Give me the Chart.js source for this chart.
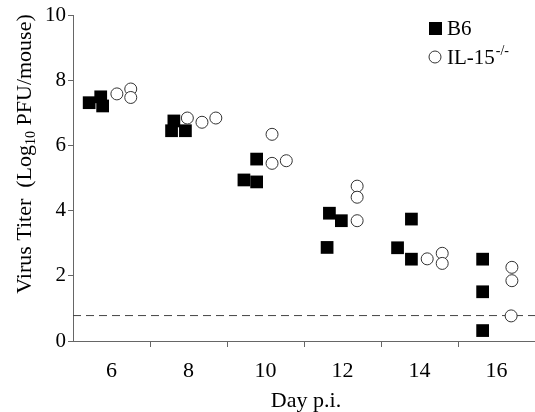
<!DOCTYPE html>
<html>
<head>
  <title>Virus titer by day p.i.</title>
  <script src="https://cdn.jsdelivr.net/npm/chart.js"></script>
  <style>
    body { margin: 0; background: #fff; }
    #wrap { width: 535px; height: 412px; }
  </style>
</head>
<body>
  <div id="wrap"><canvas id="titerChart" width="535" height="412"></canvas></div>

  <script>
    // values (x = day with the horizontal spread used in the plot)
    const dayLabels = [6, 8, 10, 12, 14, 16];
    const b6Day = [5.42, 5.72, 5.77, 7.62, 7.56, 7.92, 9.44, 9.77, 9.77, 11.66, 11.97, 11.60, 13.79, 13.43, 13.79, 15.64, 15.64, 15.64];
    const b6Titer = [7.31, 7.49, 7.21, 6.75, 6.45, 6.45, 4.94, 4.88, 5.58, 3.92, 3.69, 2.87, 3.74, 2.86, 2.51, 2.51, 1.51, 0.32];
    const il15Day = [6.14, 6.50, 6.50, 7.97, 8.35, 8.71, 10.17, 10.17, 10.54, 12.38, 12.38, 12.38, 14.20, 14.59, 14.59, 16.40, 16.40, 16.38];
    const il15Titer = [7.58, 7.73, 7.47, 6.84, 6.71, 6.84, 6.34, 5.45, 5.53, 4.75, 4.41, 3.69, 2.52, 2.69, 2.38, 2.26, 1.85, 0.77];
    const detectionLimit = 0.78;
    const yTicks = [0, 2, 4, 6, 8, 10];

    const serif = '"Liberation Serif", "DejaVu Serif", serif';
    Chart.defaults.font.family = serif;
    const toPoints = (xs, ys) => xs.map((x, i) => ({ x: x, y: ys[i] }));

    // draws the axis titles and legend (sub/superscripts need plain canvas text)
    const textPlugin = {
      id: 'figureText',
      afterDraw(chart) {
        const ctx = chart.ctx;
        ctx.save();
        ctx.fillStyle = '#000';
        ctx.textBaseline = 'middle';

        // y title, rotated
        const big = '22px ' + serif, small = '14px ' + serif;
        const parts = [['Virus Titer  (Log', big, 0], ['10', small, 6], [' PFU/mouse)', big, 0]];
        let total = 0;
        parts.forEach(p => { ctx.font = p[1]; total += ctx.measureText(p[0]).width; });
        ctx.translate(25, 154);
        ctx.rotate(-Math.PI / 2);
        let pos = -total / 2;
        ctx.textAlign = 'left';
        parts.forEach(p => {
          ctx.font = p[1];
          ctx.fillText(p[0], pos, p[2]);
          pos += ctx.measureText(p[0]).width;
        });
        ctx.setTransform(1, 0, 0, 1, 0, 0);

        // x title
        ctx.font = big;
        ctx.textAlign = 'center';
        ctx.fillText('Day p.i.', 306, 401);

        // legend
        ctx.font = '21px ' + serif;
        ctx.textAlign = 'left';
        ctx.fillRect(429, 22, 13, 13);
        ctx.fillText('B6', 447, 29);
        ctx.beginPath();
        ctx.arc(435, 57, 6, 0, Math.PI * 2);
        ctx.strokeStyle = '#333';
        ctx.lineWidth = 1;
        ctx.stroke();
        ctx.fillText('IL-15', 447, 58);
        const w = ctx.measureText('IL-15').width;
        ctx.font = small;
        ctx.fillText('-/-', 447 + w + 1, 51);
        ctx.restore();
      }
    };

    new Chart(document.getElementById('titerChart'), {
      type: 'scatter',
      data: {
        datasets: [
          {
            label: 'IL-15-/-',
            data: toPoints(il15Day, il15Titer),
            pointStyle: 'circle',
            pointRadius: 6,
            pointBackgroundColor: '#fff',
            pointBorderColor: '#333',
            pointBorderWidth: 1
          },
          {
            label: 'B6',
            data: toPoints(b6Day, b6Titer),
            pointStyle: 'rect',
            pointRadius: 9,
            pointBackgroundColor: '#000',
            pointBorderColor: '#000',
            pointBorderWidth: 0
          },
          {
            type: 'line',
            label: 'limit',
            data: [{ x: 5, y: detectionLimit }, { x: 17, y: detectionLimit }],
            borderColor: '#444',
            borderWidth: 1,
            borderDash: [8, 5],
            pointRadius: 0,
            fill: false
          }
        ]
      },
      options: {
        responsive: false,
        animation: false,
        events: [],
        layout: { autoPadding: false, padding: { top: 15, right: 0, left: 0, bottom: 0 } },
        plugins: { legend: { display: false }, tooltip: { enabled: false } },
        scales: {
          x: {
            type: 'linear',
            min: 5,
            max: 17,
            afterFit: s => { s.height = 71; s.paddingLeft = 0; s.paddingRight = 0; },
            afterBuildTicks: s => { s.ticks = Array.from({ length: 13 }, (_, i) => ({ value: 5 + i })); },
            border: { color: '#666', width: 1 },
            grid: {
              drawOnChartArea: false,
              tickLength: 6,
              color: c => (c.tick && c.tick.value % 2 === 1 && c.tick.value > 5) ? '#666' : 'rgba(0,0,0,0)'
            },
            ticks: {
              autoSkip: false,
              maxRotation: 0,
              padding: 11,
              color: '#000',
              font: { family: serif, size: 22 },
              callback: v => dayLabels.includes(v) ? String(v) : ''
            }
          },
          y: {
            min: 0,
            max: 10,
            afterFit: s => { s.width = 73; },
            afterBuildTicks: s => { s.ticks = yTicks.map(v => ({ value: v })); },
            border: { color: '#666', width: 1 },
            grid: { drawOnChartArea: false, tickLength: 5, color: '#666' },
            ticks: {
              padding: 2,
              color: '#000',
              font: { family: serif, size: 21 }
            }
          }
        }
      },
      plugins: [textPlugin]
    });
  </script>
</body>
</html>
